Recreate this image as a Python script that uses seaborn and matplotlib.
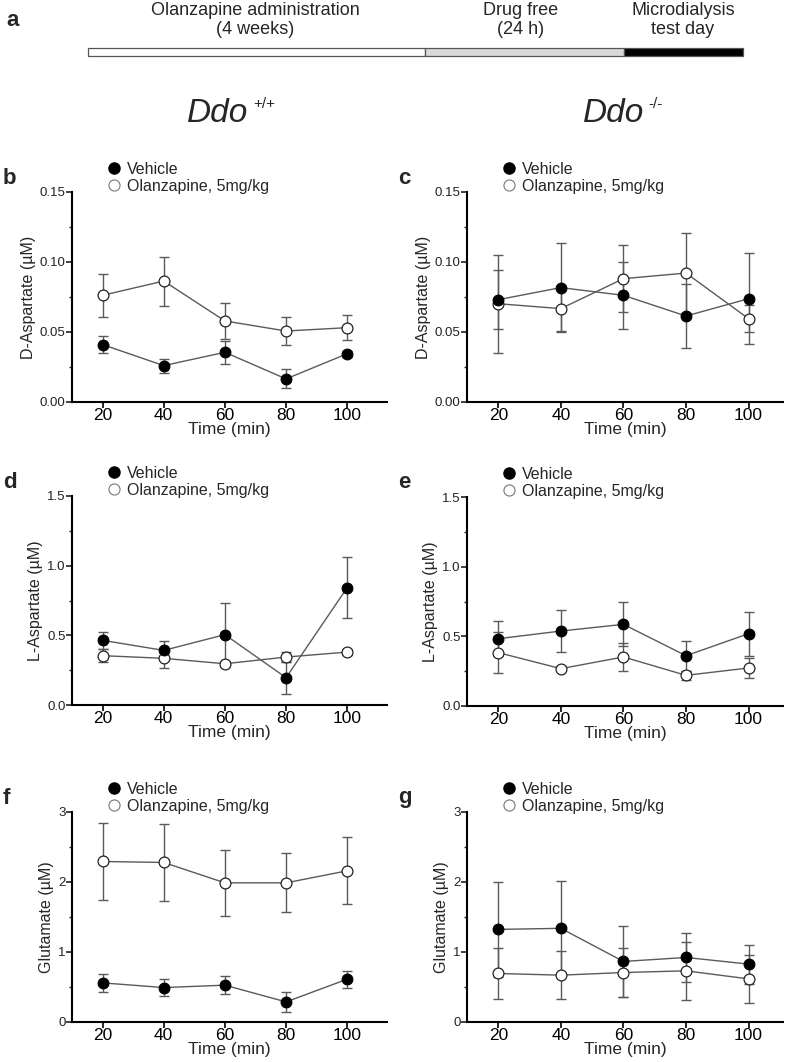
import numpy as np
import pandas as pd
import matplotlib.pyplot as plt
import seaborn as sns
from matplotlib.lines import Line2D
from matplotlib.ticker import AutoMinorLocator, FormatStrFormatter

# ---- data (mean +/- SEM) ----
time_min = [20, 40, 60, 80, 100]

# b: D-Aspartate, Ddo +/+
dasp_wt_veh = [0.041, 0.026, 0.0355, 0.0165, 0.0345]
dasp_wt_veh_sem = [0.006, 0.005, 0.008, 0.0068, 0.002]
dasp_wt_olz = [0.0762, 0.0864, 0.0579, 0.0507, 0.0531]
dasp_wt_olz_sem = [0.0155, 0.0175, 0.013, 0.0103, 0.0088]

# c: D-Aspartate, Ddo -/-
dasp_ko_veh = [0.0731, 0.0817, 0.0762, 0.0614, 0.0738]
dasp_ko_veh_sem = [0.021, 0.032, 0.024, 0.023, 0.0326]
dasp_ko_olz = [0.0702, 0.0667, 0.0881, 0.0921, 0.0595]
dasp_ko_olz_sem = [0.035, 0.016, 0.024, 0.0286, 0.0095]

# d: L-Aspartate, Ddo +/+
lasp_wt_veh = [0.464, 0.392, 0.505, 0.196, 0.843]
lasp_wt_veh_sem = [0.063, 0.069, 0.228, 0.115, 0.22]
lasp_wt_olz = [0.354, 0.335, 0.296, 0.344, 0.380]
lasp_wt_olz_sem = [0.047, 0.07, 0.02, 0.035, 0.02]

# e: L-Aspartate, Ddo -/-
lasp_ko_veh = [0.483, 0.538, 0.586, 0.361, 0.519]
lasp_ko_veh_sem = [0.127, 0.154, 0.158, 0.107, 0.157]
lasp_ko_olz = [0.383, 0.268, 0.352, 0.220, 0.273]
lasp_ko_olz_sem = [0.145, 0.02, 0.1, 0.03, 0.074]

# f: Glutamate, Ddo +/+
glu_wt_veh = [0.559, 0.492, 0.526, 0.287, 0.612]
glu_wt_veh_sem = [0.127, 0.12, 0.125, 0.143, 0.12]
glu_wt_olz = [2.293, 2.279, 1.988, 1.988, 2.16]
glu_wt_olz_sem = [0.545, 0.55, 0.47, 0.42, 0.477]

# g: Glutamate, Ddo -/-
glu_ko_veh = [1.323, 1.338, 0.865, 0.922, 0.827]
glu_ko_veh_sem = [0.68, 0.67, 0.51, 0.344, 0.28]
glu_ko_olz = [0.693, 0.669, 0.707, 0.731, 0.616]
glu_ko_olz_sem = [0.37, 0.345, 0.345, 0.415, 0.34]

# timeline phases (schematic lengths)
phase_labels = ["Olanzapine administration\n(4 weeks)", "Drug free\n(24 h)", "Microdialysis\ntest day"]
phase_lengths = [337, 199, 119]
phase_colors = ["white", "#d9d9d9", "black"]

sns.set_style("ticks")
plt.rcParams["font.family"] = ["Liberation Sans", "DejaVu Sans"]

W, H = 787, 1062
fig = plt.figure(figsize=(W / 100, H / 100), dpi=100)


def px_axes(x0, y0, x1, y1):
    # axes from pixel box (top-left origin)
    return fig.add_axes([x0 / W, 1 - y1 / H, (x1 - x0) / W, (y1 - y0) / H])


# ---- panel a: timeline ----
ax_t = px_axes(88, 48, 743, 56)
left = 0
for length, col in zip(phase_lengths, phase_colors):
    ax_t.barh(0, length, left=left, height=1, color=col, edgecolor="#555555",
              linewidth=0.9, clip_on=False)
    left += length
ax_t.set_xlim(0, sum(phase_lengths))
ax_t.set_ylim(-0.5, 0.5)
ax_t.axis("off")

for cx, lab in zip([255, 521, 683], phase_labels):
    fig.text(cx / W, 1 - 2 / H, lab, ha="center", va="top", fontsize=13,
             linespacing=1.15)
fig.text(6 / W, 1 - 20 / H, "a", fontsize=16, fontweight="bold", va="center", ha="left")

# genotype headers
fig.text(187 / W, 1 - 122 / H, "Ddo", fontsize=24, style="italic", va="baseline")
fig.text(253 / W, 1 - 108 / H, "+/+", fontsize=11, va="baseline")
fig.text(583 / W, 1 - 122 / H, "Ddo", fontsize=24, style="italic", va="baseline")
fig.text(648 / W, 1 - 108 / H, "-/-", fontsize=11, va="baseline")

panels = [
    ("b", (72, 192, 387, 402), (10, 113), dasp_wt_veh, dasp_wt_veh_sem, dasp_wt_olz, dasp_wt_olz_sem,
     "D-Aspartate (\u00b5M)", [0, 0.05, 0.10, 0.15], "%.2f"),
    ("c", (467, 192, 783, 402), (10, 111), dasp_ko_veh, dasp_ko_veh_sem, dasp_ko_olz, dasp_ko_olz_sem,
     "D-Aspartate (\u00b5M)", [0, 0.05, 0.10, 0.15], "%.2f"),
    ("d", (72, 496, 387, 705), (10, 113), lasp_wt_veh, lasp_wt_veh_sem, lasp_wt_olz, lasp_wt_olz_sem,
     "L-Aspartate (\u00b5M)", [0, 0.5, 1.0, 1.5], "%.1f"),
    ("e", (467, 497, 783, 706), (10, 111), lasp_ko_veh, lasp_ko_veh_sem, lasp_ko_olz, lasp_ko_olz_sem,
     "L-Aspartate (\u00b5M)", [0, 0.5, 1.0, 1.5], "%.1f"),
    ("f", (72, 812, 387, 1022), (10, 113), glu_wt_veh, glu_wt_veh_sem, glu_wt_olz, glu_wt_olz_sem,
     "Glutamate (\u00b5M)", [0, 1, 2, 3], "%d"),
    ("g", (467, 812, 783, 1022), (10, 111), glu_ko_veh, glu_ko_veh_sem, glu_ko_olz, glu_ko_olz_sem,
     "Glutamate (\u00b5M)", [0, 1, 2, 3], "%d"),
]

line_col = "#5a5a5a"
for letter, box, xlim, veh, veh_sem, olz, olz_sem, ylab, yt, fmt in panels:
    ax = px_axes(*box)
    df = pd.DataFrame({"time": time_min, "veh": veh, "veh_sem": veh_sem,
                       "olz": olz, "olz_sem": olz_sem})
    for col, scol in [("veh", "veh_sem"), ("olz", "olz_sem")]:
        ax.errorbar(df["time"], df[col], yerr=df[scol], fmt="none", ecolor=line_col,
                    elinewidth=1.0, capsize=3.8, capthick=1.0, zorder=1)
    sns.lineplot(data=df, x="time", y="olz", ax=ax, color=line_col, lw=1.0, marker="o",
                 markersize=7.8, markerfacecolor="white", markeredgecolor="#222222",
                 markeredgewidth=0.9, zorder=3)
    sns.lineplot(data=df, x="time", y="veh", ax=ax, color=line_col, lw=1.0, marker="o",
                 markersize=7.8, markerfacecolor="black", markeredgecolor="black", zorder=4)

    ax.set_xlim(*xlim)
    ax.set_ylim(yt[0], yt[-1])
    ax.set_xticks(time_min)
    ax.set_yticks(yt)
    ax.yaxis.set_major_formatter(FormatStrFormatter(fmt))
    ax.yaxis.set_minor_locator(AutoMinorLocator(2))
    ax.tick_params(axis="x", labelsize=12.5, length=4, width=1.2, pad=0.5, colors="black")
    ax.tick_params(axis="y", which="major", labelsize=9.5, length=4, width=1.2, pad=0.5,
                   colors="#222222")
    ax.tick_params(axis="y", which="minor", length=2.5, width=1.0)
    for s in ["left", "bottom"]:
        ax.spines[s].set_linewidth(1.5)
        ax.spines[s].set_color("black")
    sns.despine(ax=ax)
    ax.set_xlabel("Time (min)", fontsize=12.5, labelpad=-1)
    ax.set_ylabel(ylab, fontsize=11.5, labelpad=3)

    handles = [
        Line2D([], [], ls="none", marker="o", ms=8, mfc="black", mec="black"),
        Line2D([], [], ls="none", marker="o", ms=8, mfc="white", mec="#777777", mew=0.8),
    ]
    mx = box[0] + 38
    ax.legend(handles, ["Vehicle", "Olanzapine, 5mg/kg"], loc="upper left",
              bbox_to_anchor=((mx - 12) / W, 1 - (box[1] - 38) / H),
              bbox_transform=fig.transFigure, frameon=False, fontsize=11.5,
              handlelength=1.0, handletextpad=0.3, labelspacing=0.12, borderpad=0)

    fig.text((box[0] - 69) / W, 1 - (box[1] - 14) / H, letter, fontsize=16,
             fontweight="bold", va="center", ha="left")

fig.savefig("out.png", dpi=100)
